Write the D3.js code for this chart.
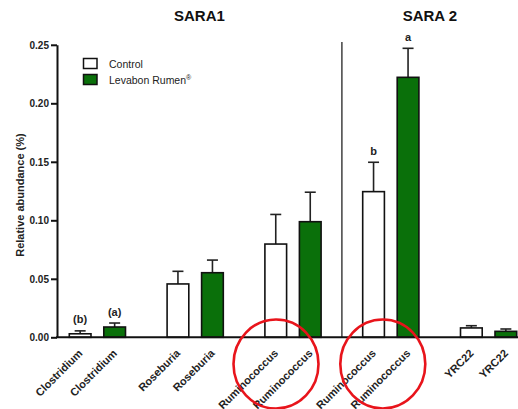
<!DOCTYPE html>
<html>
<head>
<meta charset="utf-8">
<script src="https://cdn.jsdelivr.net/npm/d3@7"></script>
<style>
  html, body { margin: 0; padding: 0; background: #fff; }
  svg { display: block; font-family: "Liberation Sans", Arial, sans-serif; }
</style>
</head>
<body>
<svg id="chart" width="518" height="409"></svg>
<script>
// Genera, one pair of bars (Control / Levabon Rumen) per genus
const genera = ["Clostridium", "Roseburia", "Ruminococcus", "Ruminococcus", "YRC22"];
const phases = ["SARA1", "SARA1", "SARA1", "SARA 2", "SARA 2"];
const panelTitles = ["SARA1", "SARA 2"];
const treatments = ["Control", "Levabon Rumen"];

// Mean relative abundance (%) and SEM
const controlMean = [0.003, 0.0456, 0.0797, 0.1245, 0.008];
const controlSem = [0.0025, 0.0108, 0.0253, 0.0251, 0.0019];
const levabonMean = [0.0088, 0.0552, 0.0988, 0.2222, 0.0051];
const levabonSem = [0.0034, 0.0108, 0.0252, 0.0248, 0.002];

// Significance letters above bars
const controlLetters = ["(b)", "", "", "b", ""];
const levabonLetters = ["(a)", "", "", "a", ""];

const yTicks = [0, 0.05, 0.10, 0.15, 0.20, 0.25];

const green = "#0a700a";
const svg = d3.select("#chart");

const y = d3.scaleLinear().domain([0, 0.25]).range([337.3, 44.8]);

const x = d3.scaleBand()
  .domain(d3.range(genera.length))
  .range([48.5, 537.5])
  .paddingInner(0.2945)
  .paddingOuter(0.1472);

const xSub = d3.scaleBand()
  .domain(treatments)
  .range([0, x.bandwidth()])
  .paddingInner(0.371)
  .paddingOuter(0.1855);

const axisX = 57;
const baseY = y(0);
const sepX = (x(2) + x.bandwidth() + x(3)) / 2;

// Flattened bars
const bars = [];
genera.forEach((g, i) => {
  bars.push({ i, genus: g, t: treatments[0], v: controlMean[i], e: controlSem[i], letter: controlLetters[i], fill: "#fff" });
  bars.push({ i, genus: g, t: treatments[1], v: levabonMean[i], e: levabonSem[i], letter: levabonLetters[i], fill: green });
});
const bx = d => x(d.i) + xSub(d.t);
const bw = xSub.bandwidth();

// Panel separator
svg.append("line")
  .attr("x1", sepX).attr("x2", sepX)
  .attr("y1", 42).attr("y2", baseY)
  .attr("stroke", "#333").attr("stroke-width", 1.4);

// Error bars (upper whisker only)
const eb = svg.append("g").attr("stroke", "#222").attr("stroke-width", 1.6);
bars.forEach(d => {
  const cx = bx(d) + bw / 2;
  eb.append("line").attr("x1", cx).attr("x2", cx).attr("y1", y(d.v)).attr("y2", y(d.v + d.e));
  eb.append("line").attr("x1", cx - 5.5).attr("x2", cx + 5.5).attr("y1", y(d.v + d.e)).attr("y2", y(d.v + d.e));
});

// Bars
svg.append("g").selectAll("rect").data(bars).join("rect")
  .attr("x", bx)
  .attr("y", d => y(d.v))
  .attr("width", bw)
  .attr("height", d => baseY - y(d.v))
  .attr("fill", d => d.fill)
  .attr("stroke", "#111")
  .attr("stroke-width", 1.6);

// Significance letters
svg.append("g").selectAll("text").data(bars.filter(d => d.letter)).join("text")
  .attr("x", d => bx(d) + bw / 2)
  .attr("y", d => y(d.v + d.e) - 7.5)
  .attr("text-anchor", "middle")
  .attr("font-size", 11).attr("font-weight", "bold").attr("fill", "#222")
  .text(d => d.letter);

// Y axis
const yAxis = svg.append("g")
  .attr("transform", `translate(${axisX},0)`)
  .call(d3.axisLeft(y).tickValues(yTicks).tickFormat(d3.format(".2f")).tickSize(6).tickSizeOuter(0).tickPadding(2));
yAxis.select(".domain").attr("stroke", "#111").attr("stroke-width", 2);
yAxis.selectAll(".tick line").attr("stroke", "#111").attr("stroke-width", 2);
yAxis.selectAll(".tick text")
  .attr("font-size", 10).attr("font-weight", "bold").attr("fill", "#222")
  .attr("font-family", "Liberation Sans, Arial, sans-serif");

// X baseline
svg.append("line")
  .attr("x1", axisX - 1).attr("x2", 518)
  .attr("y1", baseY).attr("y2", baseY)
  .attr("stroke", "#111").attr("stroke-width", 2);

// Category labels (long ones run off the bottom edge)
svg.append("g").selectAll("text").data(bars).join("text")
  .attr("transform", d => `translate(${bx(d) + bw / 2 + 3},354) rotate(-45)`)
  .attr("text-anchor", "end")
  .attr("font-size", 11).attr("font-weight", "bold").attr("fill", "#222")
  .text(d => d.genus);

// Y axis title
svg.append("text")
  .attr("transform", `translate(24,${(44.8 + baseY) / 2 + 4}) rotate(-90)`)
  .attr("text-anchor", "middle")
  .attr("font-size", 11).attr("font-weight", "bold").attr("fill", "#222")
  .text("Relative abundance (%)");

// Panel titles
const panelCenters = [(axisX + sepX) / 2, (sepX + 518) / 2];
svg.append("g").selectAll("text").data(panelTitles).join("text")
  .attr("x", (d, i) => panelCenters[i])
  .attr("y", 21)
  .attr("text-anchor", "middle")
  .attr("font-size", 15).attr("font-weight", "bold").attr("fill", "#111")
  .text(d => d);

// Legend
const legend = svg.append("g");
treatments.forEach((t, i) => {
  const ly = 58.5 + i * 16;
  legend.append("rect")
    .attr("x", 83.5).attr("y", ly).attr("width", 13.5).attr("height", 10)
    .attr("fill", i === 0 ? "#fff" : green).attr("stroke", "#111").attr("stroke-width", 1.5);
  const tx = legend.append("text")
    .attr("x", 109).attr("y", ly + 9)
    .attr("font-size", 10.5).attr("fill", "#222")
    .text(t);
  if (i === 1) {
    tx.append("tspan").attr("dy", -4).attr("font-size", 7).text("®");
  }
});

// Highlight rings around the Ruminococcus labels
const rings = [{ i: 2, dx: -17 }, { i: 3, dx: -8 }];
svg.append("g").selectAll("ellipse").data(rings).join("ellipse")
  .attr("cx", d => x(d.i) + x.bandwidth() / 2 + d.dx)
  .attr("cy", 364)
  .attr("rx", 42.5)
  .attr("ry", 44.5)
  .attr("fill", "none")
  .attr("stroke", "#e8141b")
  .attr("stroke-width", 2.6);
</script>
</body>
</html>
